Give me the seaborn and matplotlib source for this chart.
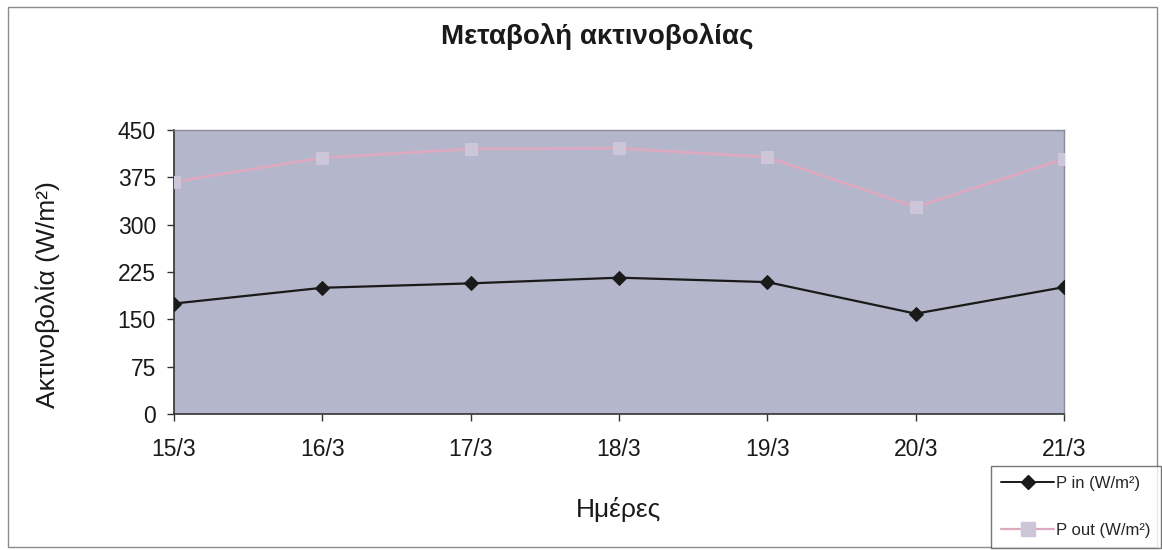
import matplotlib
matplotlib.use("Agg")
import matplotlib.pyplot as plt
from matplotlib.patches import Rectangle
from matplotlib.lines import Line2D
import numpy as np
import pandas as pd
import seaborn as sns

days = ["15/3", "16/3", "17/3", "18/3", "19/3", "20/3", "21/3"]
p_in = [175, 200, 207, 216, 209, 159, 201]
p_out = [368, 406, 420, 421, 407, 328, 404]
y_ticks = [0, 75, 150, 225, 300, 375, 450]

title = "Μεταβολή ακτινοβολίας"
x_label = "Ημέρες"
y_label = "Ακτινοβολία (W/m²)"
label_in = "P in (W/m²)"
label_out = "P out (W/m²)"

sns.set_theme(style="white")
plt.rcParams["font.family"] = ["Liberation Sans", "DejaVu Sans"]

df = pd.DataFrame({"idx": np.arange(len(days)), "day": days,
                   "p_in": p_in, "p_out": p_out})

W, H = 1162, 550
fig = plt.figure(figsize=(W / 100, H / 100), dpi=100)
ax = fig.add_axes([174 / W, 1 - 414 / H, (1064 - 174) / W, (414 - 130) / H])
ax.set_facecolor("#b4b7cb")

out_line = "#dca9c1"
out_marker = "#cdc6d9"
sns.lineplot(data=df, x="idx", y="p_out", ax=ax, color=out_line, linewidth=2.0,
             marker="s", markersize=9, markerfacecolor=out_marker,
             markeredgecolor=out_marker, zorder=3)
sns.lineplot(data=df, x="idx", y="p_in", ax=ax, color="#1a1a1a", linewidth=1.6,
             marker="D", markersize=7, markerfacecolor="#1a1a1a",
             markeredgecolor="#1a1a1a", zorder=4)

ax.set_xlim(0, len(days) - 1)
ax.set_ylim(0, 450)
ax.set_xticks(df["idx"])
ax.set_xticklabels(days)
ax.set_yticks(y_ticks)
ax.tick_params(axis="both", direction="out", length=5, width=1, color="#333333",
               labelsize=16.5, labelcolor="#1a1a1a", bottom=True, left=True, pad=8)
ax.tick_params(axis="x", pad=12)

for side in ["top", "right"]:
    ax.spines[side].set_color("#8a8a99")
    ax.spines[side].set_linewidth(1.0)
for side in ["left", "bottom"]:
    ax.spines[side].set_color("#333333")
    ax.spines[side].set_linewidth(1.2)

ax.set_xlabel(x_label, fontsize=19, color="#1a1a1a")
ax.set_ylabel(y_label, fontsize=19, color="#1a1a1a")
ax.xaxis.set_label_coords((619 - 174) / (1064 - 174), -(510 - 414) / (414 - 130))
ax.xaxis.label.set_va("center")
ax.yaxis.set_label_coords(-(174 - 48) / (1064 - 174), (414 - 295) / (414 - 130))
ax.yaxis.label.set_va("center")

fig.text(597 / W, 1 - 36 / H, title, ha="center", va="center",
         fontsize=20, fontweight="bold", color="#1a1a1a")

# outer chart frame
fig.patches.append(Rectangle((8 / W, 3 / H), 1149 / W, 540 / H,
                             transform=fig.transFigure, fill=False,
                             edgecolor="#8c8c8c", linewidth=1.0))

handles = [
    Line2D([], [], color="#1a1a1a", linewidth=1.4, marker="D", markersize=7,
           markerfacecolor="#1a1a1a", markeredgecolor="#1a1a1a"),
    Line2D([], [], color=out_line, linewidth=1.6, marker="s", markersize=10,
           markerfacecolor=out_marker, markeredgecolor=out_marker),
]
leg = fig.legend(handles, [label_in, label_out], loc="upper left",
                 bbox_to_anchor=(991 / W, 1 - 466 / H), fontsize=12,
                 frameon=True, fancybox=False, edgecolor="#555555",
                 handlelength=3.2, handletextpad=0.1, labelspacing=1.9,
                 borderpad=0.6, borderaxespad=0)
leg.get_frame().set_linewidth(1.0)

fig.savefig("out.png", dpi=100, facecolor="white")
